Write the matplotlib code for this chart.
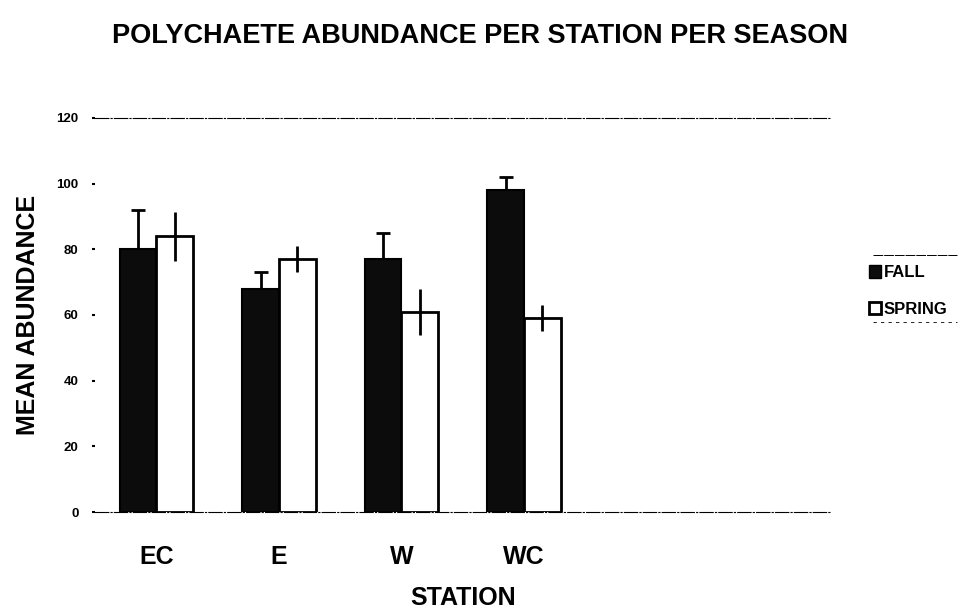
import matplotlib
matplotlib.use("Agg")
import matplotlib.pyplot as plt
from matplotlib.lines import Line2D
from matplotlib.patches import Patch
import numpy as np

plt.rcParams['font.family'] = ['Liberation Sans', 'DejaVu Sans']
plt.rcParams['font.weight'] = 'bold'

stations = ["EC", "E", "W", "WC"]
fall = [80, 68, 77, 98]
fall_err = [12, 5, 8, 4]
spring = [84, 77, 61, 59]
spring_err = [7.5, 4, 7, 4]
yticks = [0, 20, 40, 60, 80, 100, 120]

fig = plt.figure(figsize=(9.61, 6.14), dpi=100)
ax = fig.add_axes([0.099, 0.166, 0.765, 0.642])

x = np.arange(len(stations))
w = 0.3
ax.bar(x - w / 2, fall, w, color="#0c0c0c", edgecolor="black", linewidth=1.5, zorder=2)
ax.bar(x + w / 2, spring, w, color="white", edgecolor="black", linewidth=2, zorder=2)
# fall errors go up only, spring errors both ways
ax.errorbar(x - w / 2, fall, yerr=[np.zeros(4), fall_err], fmt="none", ecolor="black",
            elinewidth=2, capsize=5, capthick=2, zorder=1)
ax.errorbar(x + w / 2, spring, yerr=spring_err, fmt="none", ecolor="black",
            elinewidth=2, capsize=0, zorder=3)

ax.set_xlim(-0.5, 5.5)
ax.set_ylim(0, 120)
ax.set_yticks(yticks)
ax.set_xticks(x)
ax.set_xticklabels(stations, fontsize=18, fontweight="bold")
ax.tick_params(axis="y", labelsize=9.5, length=2, width=1.5, pad=10)
ax.tick_params(axis="x", length=0, pad=24)

ax.spines["left"].set_visible(False)
ax.spines["right"].set_visible(False)
for s in ["top", "bottom"]:
    ax.spines[s].set_linestyle((0, (12, 2, 1, 2)))
    ax.spines[s].set_linewidth(0.8)

ax.set_ylabel("MEAN ABUNDANCE", fontsize=18, fontweight="bold", labelpad=12)
ax.set_xlabel("STATION", fontsize=18, fontweight="bold", labelpad=12)
fig.suptitle("POLYCHAETE ABUNDANCE PER STATION PER SEASON", fontsize=19.5,
             fontweight="bold", y=0.962, x=0.5)

handles = [Patch(facecolor="#0c0c0c", edgecolor="black"),
           Patch(facecolor="white", edgecolor="black", linewidth=2)]
leg = fig.legend(handles, ["FALL", "SPRING"], loc="upper left", bbox_to_anchor=(0.904, 0.568),
                 frameon=False, fontsize=12, handlelength=0.75, handleheight=0.75,
                 handletextpad=0.15, labelspacing=1.3, borderaxespad=0, borderpad=0)
fig.add_artist(Line2D([0.908, 0.996], [0.585, 0.585], color="black", lw=0.7, linestyle=(0, (10, 1))))
fig.add_artist(Line2D([0.908, 0.996], [0.476, 0.476], color="black", lw=0.6, linestyle=(0, (4, 5))))

fig.savefig("out.png", dpi=100)
